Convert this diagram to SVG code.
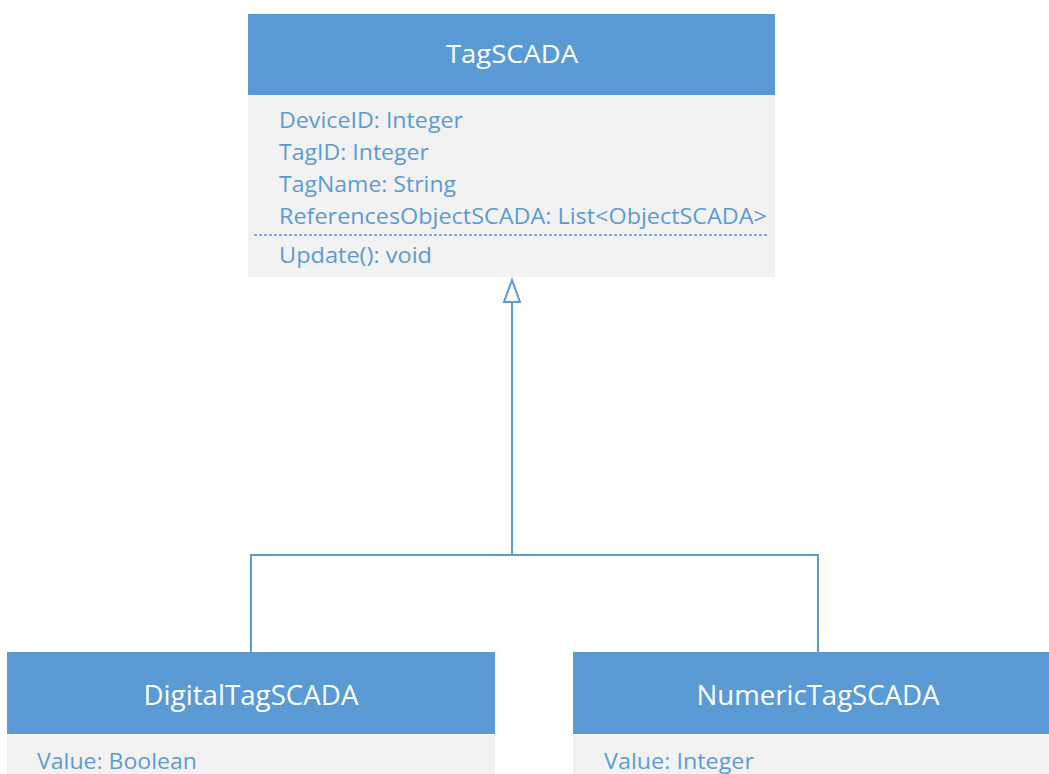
<svg xmlns="http://www.w3.org/2000/svg" width="1049" height="774" viewBox="0 0 1049 774">
  <style>
    .hdr { fill: #5B9BD5; }
    .body { fill: #F2F2F2; }
    .title { font-family: "Open Sans", "Noto Sans", "Liberation Sans", sans-serif; fill: #FFFFFF; text-anchor: middle; }
    .attr { font-family: "Open Sans", "Noto Sans", "Liberation Sans", sans-serif; font-size: 21px; fill: #5B9BD5; }
    .link { fill: none; stroke: #5B9BD5; stroke-width: 2; }
  </style>
  <rect width="1049" height="774" fill="#FFFFFF"/>

  <!-- generalization connectors -->
  <g id="connectors">
    <path class="link" d="M512 302 L512 555"/>
    <path d="M512 280 L520 302 L504 302 Z" fill="#FFFFFF" stroke="#5B9BD5" stroke-width="2" stroke-linejoin="miter"/>
    <path class="link" d="M251 652 L251 555 L818 555 L818 652"/>
  </g>

  <g id="TagSCADA">
    <rect class="hdr" x="248" y="14" width="527" height="81"/>
    <rect class="body" x="248" y="95" width="527" height="182"/>
    <text class="title" x="512" y="63" font-size="26" textLength="132" lengthAdjust="spacingAndGlyphs">TagSCADA</text>
    <text class="attr" x="279" y="128" textLength="184" lengthAdjust="spacingAndGlyphs">DeviceID: Integer</text>
    <text class="attr" x="279" y="160" textLength="150" lengthAdjust="spacingAndGlyphs">TagID: Integer</text>
    <text class="attr" x="279" y="192" textLength="177" lengthAdjust="spacingAndGlyphs">TagName: String</text>
    <text class="attr" x="279" y="224" textLength="488" lengthAdjust="spacingAndGlyphs">ReferencesObjectSCADA: List&lt;ObjectSCADA&gt;</text>
    <line x1="254" y1="235" x2="769" y2="235" stroke="#5B9BD5" stroke-width="1.5" stroke-dasharray="3 2"/>
    <text class="attr" x="279" y="263" textLength="153" lengthAdjust="spacingAndGlyphs">Update(): void</text>
  </g>

  <g id="DigitalTagSCADA">
    <rect class="hdr" x="7" y="652" width="488" height="82"/>
    <rect class="body" x="7" y="735" width="488" height="39"/>
    <text class="title" x="251" y="705" font-size="27" textLength="215" lengthAdjust="spacingAndGlyphs">DigitalTagSCADA</text>
    <text class="attr" x="37" y="769" textLength="160" lengthAdjust="spacingAndGlyphs">Value: Boolean</text>
  </g>

  <g id="NumericTagSCADA">
    <rect class="hdr" x="573" y="652" width="476" height="82"/>
    <rect class="body" x="573" y="735" width="476" height="39"/>
    <text class="title" x="818" y="705" font-size="27" textLength="243" lengthAdjust="spacingAndGlyphs">NumericTagSCADA</text>
    <text class="attr" x="604" y="769" textLength="150" lengthAdjust="spacingAndGlyphs">Value: Integer</text>
  </g>
</svg>
